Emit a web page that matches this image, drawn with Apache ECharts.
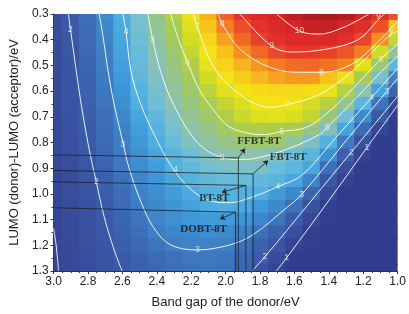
<!DOCTYPE html>
<html><head><meta charset="utf-8">
<script src="https://cdn.jsdelivr.net/npm/echarts@6/dist/echarts.min.js"></script>
<style>html,body{margin:0;padding:0;background:#fff}#c{width:409px;height:314px}</style>
</head><body><div id="c"></div>
<script>
// Band gap (x) and LUMO offset (y) grid of the efficiency map
const bandGap = [3.0,2.9,2.8,2.7,2.6,2.5,2.4,2.3,2.2,2.1,2.0,1.9,1.8,1.7,1.6,1.5,1.4,1.3,1.2,1.1,1.0];
const lumoOffset = [0.30,0.35,0.40,0.45,0.50,0.55,0.60,0.65,0.70,0.75,0.80,0.85,0.90,0.95,1.00,1.05,1.10,1.15,1.20,1.25,1.30];
// efficiency (%), one row per lumoOffset value
const pce = [
[1.55,2.08,2.64,3.25,3.98,4.67,5.39,6.15,6.9,7.6,8.34,9.08,9.54,10.0,10.35,10.6,10.7,10.55,10.15,9.2,8.6],
[1.52,2.02,2.57,3.15,3.88,4.57,5.26,5.97,6.73,7.41,8.05,8.63,9.16,9.57,10.0,10.25,10.3,9.93,9.31,8.56,7.4],
[1.48,1.97,2.51,3.07,3.8,4.49,5.15,5.82,6.52,7.19,7.75,8.3,8.82,9.2,9.45,9.58,9.6,9.3,8.74,7.94,6.34],
[1.45,1.92,2.45,2.99,3.73,4.4,5.02,5.65,6.31,7.02,7.46,7.93,8.3,8.7,9.0,8.95,8.8,8.5,8.08,6.47,5.3],
[1.42,1.87,2.39,2.93,3.66,4.33,4.91,5.5,6.1,6.81,7.24,7.56,7.87,8.1,8.25,8.3,8.2,8.03,6.71,5.58,4.23],
[1.38,1.83,2.33,2.87,3.55,4.22,4.78,5.34,5.89,6.46,7.05,7.3,7.55,7.72,7.82,7.8,7.45,6.81,5.98,4.61,3.0],
[1.35,1.79,2.27,2.8,3.43,4.09,4.63,5.18,5.72,6.23,6.71,7.05,7.12,7.18,7.18,7.1,6.81,6.15,4.99,3.68,2.29],
[1.32,1.75,2.21,2.73,3.31,3.96,4.49,5.02,5.5,5.96,6.3,6.63,6.95,7.05,6.9,6.53,6.17,5.32,4.19,2.73,1.0],
[1.28,1.70,2.15,2.65,3.18,3.77,4.29,4.79,5.26,5.7,6.1,6.4,6.65,6.75,6.6,6.3,5.55,4.5,3.25,2.0,0.2],
[1.25,1.67,2.1,2.58,3.07,3.61,4.12,4.59,5.04,5.39,5.76,6.02,6.05,6.04,5.97,5.42,4.78,3.74,2.47,0.95,0],
[1.22,1.61,2.0,2.5,2.98,3.47,3.95,4.4,4.84,5.15,5.4,5.6,5.72,5.72,5.2,4.68,4.08,2.89,1.68,0.1,0],
[1.19,1.57,1.94,2.41,2.9,3.34,3.77,4.16,4.48,4.8,5.02,5.05,5.02,4.78,4.46,4.15,3.36,2.18,0.85,0,0],
[1.16,1.52,1.89,2.33,2.81,3.24,3.63,4.03,4.3,4.55,4.7,4.75,4.7,4.42,4.2,3.79,2.63,1.42,0.15,0,0],
[1.13,1.48,1.83,2.24,2.7,3.12,3.46,3.8,4.1,4.3,4.4,4.38,4.3,4.15,3.78,3.06,1.9,0.75,0,0,0],
[1.10,1.44,1.78,2.16,2.6,3.03,3.31,3.6,3.89,4.05,4.1,4.07,4.0,3.59,3.18,2.38,1.27,0.08,0,0,0],
[1.07,1.40,1.73,2.08,2.5,2.91,3.2,3.45,3.7,3.9,3.97,3.85,3.55,3.2,2.64,1.71,0.6,0,0,0,0],
[1.04,1.36,1.68,2.0,2.39,2.78,3.12,3.33,3.5,3.6,3.58,3.45,3.2,2.78,2.05,1.16,0.3,0,0,0,0],
[1.0,1.33,1.63,1.94,2.27,2.62,2.97,3.13,3.22,3.25,3.18,3.05,2.67,2.21,1.53,0.5,0,0,0,0,0],
[0.98,1.28,1.58,1.87,2.17,2.46,2.75,3.01,3.05,3.05,3.01,2.69,2.32,1.87,1.06,0.25,0,0,0,0,0],
[0.95,1.24,1.52,1.8,2.06,2.3,2.52,2.7,2.83,2.87,2.78,2.45,2.1,1.41,0.38,0,0,0,0,0,0],
[0.92,1.2,1.47,1.74,2.0,2.22,2.43,2.58,2.7,2.75,2.68,2.4,1.72,1.0,0,0,0,0,0,0,0]
];
// contour lines: [bandGap, lumoOffset]
const contour1Left = [[3.0,1.135],[2.985,1.2],[2.971,1.3]];
const contour1Right = [[1.705,1.3],[1.646,1.249],[1.41,1.035],[1.179,0.82],[1.0,0.655]];
const contour2Left = [[2.914,0.3],[2.902,0.359],[2.844,0.632],[2.793,0.827],[2.752,0.952],[2.706,1.089],[2.648,1.218],[2.602,1.3]];
const contour2Right = [[1.847,1.3],[1.772,1.245],[1.526,1.046],[1.271,0.839],[1.0,0.62]];
const contour3 = [[2.735,0.3],[2.712,0.39],[2.683,0.523],[2.648,0.652],[2.597,0.8],[2.562,0.898],[2.493,1.03],[2.418,1.132],[2.32,1.198],[2.164,1.218],[1.974,1.198],[1.841,1.159],[1.646,1.054],[1.559,1.003],[1.311,0.802],[1.063,0.601],[1.0,0.55]];
const contour4 = [[2.597,0.3],[2.579,0.37],[2.55,0.523],[2.493,0.652],[2.401,0.788],[2.303,0.905],[2.187,0.991],[2.072,1.03],[1.974,1.034],[1.841,1.011],[1.697,0.972],[1.553,0.925],[1.352,0.775],[1.15,0.624],[1.0,0.511]];
const contour5 = [[2.452,0.3],[2.424,0.398],[2.378,0.523],[2.303,0.652],[2.164,0.8],[2.02,0.859],[1.916,0.866],[1.841,0.863],[1.646,0.827],[1.455,0.769],[1.409,0.741],[1.236,0.624],[1.11,0.534],[1.0,0.464]];
const contour6 = [[2.32,0.3],[2.274,0.398],[2.222,0.488],[2.147,0.601],[2.049,0.691],[1.974,0.741],[1.859,0.765],[1.772,0.769],[1.674,0.757],[1.53,0.741],[1.398,0.679],[1.254,0.585],[1.098,0.476],[1.0,0.417]];
const contour7 = [[2.187,0.3],[2.164,0.351],[2.072,0.503],[1.934,0.605],[1.744,0.663],[1.64,0.652],[1.455,0.613],[1.265,0.523],[1.052,0.386],[1.0,0.366]];
const contour8 = [[2.043,0.3],[2.02,0.339],[1.916,0.437],[1.744,0.507],[1.571,0.527],[1.444,0.527],[1.265,0.495],[1.11,0.405],[1.0,0.327]];
const contour9 = [[1.916,0.3],[1.732,0.425],[1.611,0.448],[1.415,0.437],[1.225,0.398],[1.11,0.32],[1.075,0.3]];
const contour10 = [[1.703,0.3],[1.571,0.366],[1.455,0.378],[1.311,0.351],[1.167,0.3]];
const contourLabels = [
[2.902,0.359,'2'],[2.752,0.952,'2'],[1.271,0.839,'2'],[1.772,1.245,'2'],
[1.179,0.82,'1'],[1.646,1.249,'1'],
[2.597,0.808,'3'],[2.164,1.218,'3'],[1.559,1.003,'3'],[1.063,0.601,'3'],
[2.579,0.37,'4'],[2.291,0.905,'4'],[1.697,0.972,'4'],[1.15,0.624,'4'],
[2.424,0.398,'5'],[2.02,0.859,'5'],[1.409,0.741,'5'],
[2.222,0.488,'6'],[1.674,0.757,'6'],[1.098,0.476,'6'],
[2.164,0.351,'7'],[1.64,0.652,'7'],[1.04,0.378,'7'],
[2.02,0.339,'8'],[1.444,0.527,'8'],
[1.732,0.425,'9'],[1.11,0.312,'9'],
[1.571,0.366,'10']
];
// molecule guide lines
const guideFFBT = [[3.0,0.848],[1.926,0.86],[1.926,1.3]];
const guideFBT = [[3.0,0.909],[1.84,0.922],[1.84,1.3]];
const guideBT = [[3.0,0.953],[1.882,0.967],[1.882,1.3]];
const guideDOBT = [[3.0,1.054],[1.942,1.071],[1.942,1.3]];
const arrows = [
[[1.926,0.86],[1.888,0.823]],
[[1.84,0.922],[1.753,0.87]],
[[1.882,0.967],[2.022,0.994]],
[[1.942,1.071],[2.032,1.098]]
];
const moleculeLabels = [
[1.932,0.796,'FFBT-8T','left'],
[1.744,0.857,'FBT-8T','left'],
[2.066,1.016,'BT-8T','center'],
[2.128,1.137,'DOBT-8T','center']
];

const colors = ['#313c8c','#33408f','#364595','#384e9d','#3a59a6','#3c6ab5','#3e7fc5','#3e98d8','#4fb0e1','#70bed6','#8cc2b0','#98c67e','#a9cb4f','#d2dc24','#f5e517','#f8bd1d','#f48522','#ec5526','#e4362a','#dd2a29','#d52627','#b81e21','#8c1818'];

const cells = [];
lumoOffset.forEach((y,i)=>bandGap.forEach((x,j)=>cells.push([x,y,pce[i][j]])));
const hx = Math.abs(bandGap[1]-bandGap[0])/2, hy = Math.abs(lumoOffset[1]-lumoOffset[0])/2;

const chart = echarts.init(document.getElementById('c'));
const contourStyle = {color:'rgba(255,255,255,0.9)', width:1};
function contourSeries(d){return {type:'line', data:d, smooth:0.35, showSymbol:false, symbol:'none', silent:true, lineStyle:contourStyle, z:3, animation:false};}
function guideSeries(d){return {type:'line', data:d, showSymbol:false, symbol:'none', silent:true, lineStyle:{color:'#1c1f2a', width:0.8}, z:4, animation:false};}
const txt = '#222';
chart.setOption({
  animation:false,
  grid:{left:51, right:10, top:14, bottom:42},
  xAxis:{type:'value', min:1.0, max:3.0, interval:0.2, inverse:true,
    name:'Band gap of the donor/eV', nameLocation:'middle', nameGap:25,
    nameTextStyle:{fontFamily:'Liberation Sans', fontSize:13, color:txt},
    axisLine:{lineStyle:{color:'#333', width:1}}, axisTick:{length:3, lineStyle:{color:'#333'}},
    minorTick:{show:true, splitNumber:4, length:2, lineStyle:{color:'#333'}},
    splitLine:{show:false},
    axisLabel:{fontFamily:'Liberation Sans', fontSize:12, color:txt, margin:5, formatter:v=>v.toFixed(1)}},
  yAxis:{type:'value', min:0.3, max:1.3, interval:0.1, inverse:true,
    name:'LUMO (donor)-LUMO (acceptor)/eV', nameLocation:'middle', nameGap:31,
    nameTextStyle:{fontFamily:'Liberation Sans', fontSize:13, color:txt},
    axisLine:{lineStyle:{color:'#333', width:1}}, axisTick:{length:3, lineStyle:{color:'#333'}},
    minorTick:{show:true, splitNumber:2, length:2, lineStyle:{color:'#333'}},
    splitLine:{show:false},
    axisLabel:{fontFamily:'Liberation Sans', fontSize:12, color:txt, margin:5, formatter:v=>v.toFixed(1)}},
  visualMap:{show:false, type:'continuous', min:0, max:11, dimension:2, seriesIndex:0, inRange:{color:colors}},
  series:[
    {type:'custom', data:cells, encode:{x:0,y:1}, z:1, silent:true,
     renderItem:function(params, api){
       const x=api.value(0), y=api.value(1);
       const p1=api.coord([x+hx, y-hy]), p2=api.coord([x-hx, y+hy]);
       const cs=params.coordSys;
       const r=echarts.graphic.clipRectByRect({x:Math.min(p1[0],p2[0])-0.5, y:Math.min(p1[1],p2[1])-0.5,
         width:Math.abs(p2[0]-p1[0])+1, height:Math.abs(p2[1]-p1[1])+1},{x:cs.x,y:cs.y,width:cs.width,height:cs.height});
       if(!r) return null;
       return {type:'rect', shape:r, style:{fill:api.visual('color')}};
     }},
    contourSeries(contour1Left), contourSeries(contour1Right),
    contourSeries(contour2Left), contourSeries(contour2Right),
    contourSeries(contour3), contourSeries(contour4), contourSeries(contour5),
    contourSeries(contour6), contourSeries(contour7), contourSeries(contour8),
    contourSeries(contour9), contourSeries(contour10),
    {type:'scatter', data:contourLabels.map(d=>({value:[d[0],d[1]], name:d[2]})), symbolSize:0, silent:true, z:5,
     label:{show:true, position:'inside', formatter:p=>p.name, color:'#f4f4f4', fontSize:8.5, fontFamily:'Liberation Sans'}},
    guideSeries(guideFFBT), guideSeries(guideFBT), guideSeries(guideBT), guideSeries(guideDOBT),
    {type:'lines', coordinateSystem:'cartesian2d', data:arrows.map(a=>({coords:a})), symbol:['none','arrow'], symbolSize:5,
     lineStyle:{color:'#1c1f2a', width:0.8, opacity:1}, silent:true, z:6},
    {type:'scatter', data:moleculeLabels.map(d=>({value:[d[0],d[1]], name:d[2], label:{align:d[3]}})), symbolSize:0, silent:true, z:7,
     label:{show:true, position:'inside', formatter:p=>p.name, color:'#111', fontSize:11, fontWeight:'bold', fontFamily:'Liberation Serif'}}
  ]
});
</script></body></html>
